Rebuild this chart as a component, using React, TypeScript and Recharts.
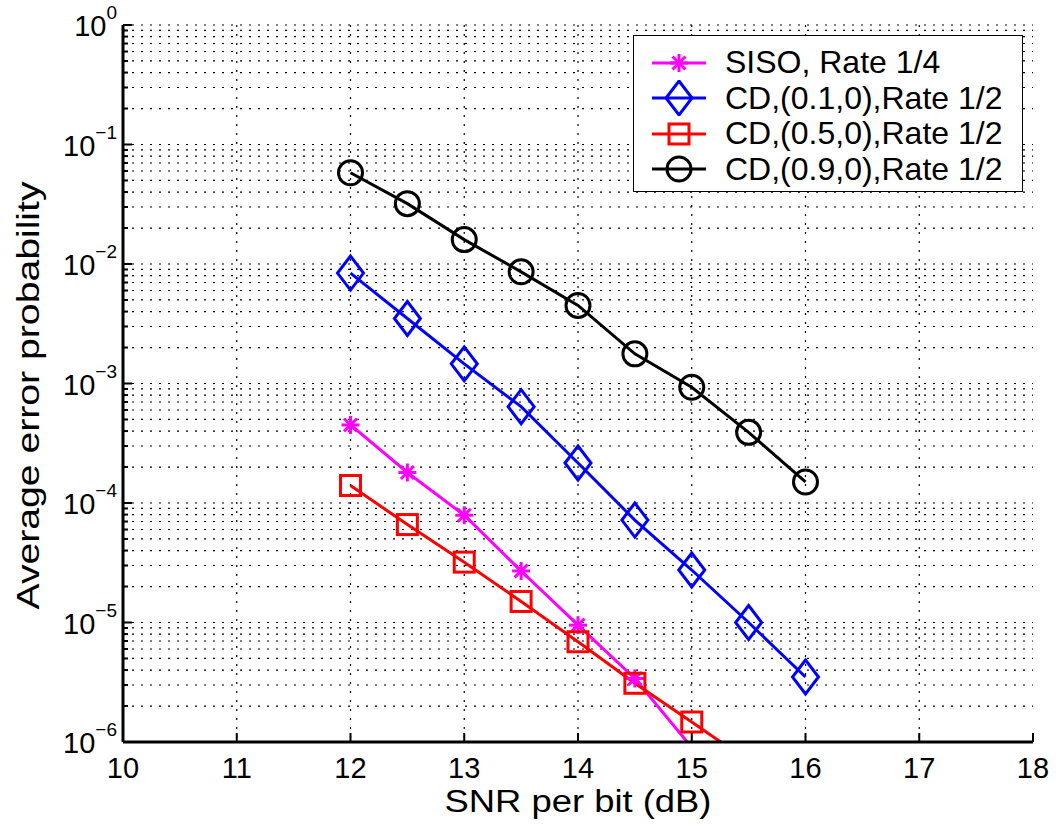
import React from "react";
import { LineChart, Line, XAxis, YAxis, CartesianGrid, Legend } from "recharts";

// SNR per bit (dB) sample points
const snr = [12, 12.5, 13, 13.5, 14, 14.5, 15, 15.5, 16];

// average error probability
const siso = [4.5e-4, 1.8e-4, 7.9e-5, 2.7e-5, 9.5e-6, 3.4e-6, 9e-7];
const cd01 = [8.4e-3, 3.5e-3, 1.46e-3, 6.4e-4, 2.16e-4, 7.2e-5, 2.75e-5, 1e-5, 3.5e-6];
const cd05 = [1.4e-4, 6.6e-5, 3.2e-5, 1.5e-5, 6.9e-6, 3.1e-6, 1.47e-6, 6.9e-7];
const cd09 = [5.8e-2, 3.2e-2, 1.6e-2, 8.6e-3, 4.5e-3, 1.77e-3, 9.3e-4, 3.9e-4, 1.5e-4];

const xTicks = [10, 11, 12, 13, 14, 15, 16, 17, 18];
const xGrid = [11, 12, 13, 14, 15, 16, 17];
const decadeExps = [-6, -5, -4, -3, -2, -1, 0];
const minorMultipliers = [2, 3, 4, 5, 6, 7, 8, 9];

const Y_MIN = 1e-6;
const decades = decadeExps.map((e) => Math.pow(10, e));
const minors = decadeExps.slice(0, -1).flatMap((e) => minorMultipliers.map((m) => m * Math.pow(10, e)));
const yTicks = [...decades, ...minors].sort((a, b) => a - b);

type Row = { x: number; siso?: number; cd01?: number; cd05?: number; cd09?: number };
const data: Row[] = snr.map((x, i) => ({ x, siso: siso[i], cd01: cd01[i], cd05: cd05[i], cd09: cd09[i] }));

const FONT = '"Liberation Sans", Arial, Helvetica, sans-serif';

type Marker = "star" | "diamond" | "square" | "circle";
const series: { key: keyof Row; name: string; color: string; marker: Marker }[] = [
  { key: "siso", name: "SISO, Rate 1/4", color: "#ff00ff", marker: "star" },
  { key: "cd01", name: "CD,(0.1,0),Rate 1/2", color: "#0000ff", marker: "diamond" },
  { key: "cd05", name: "CD,(0.5,0),Rate 1/2", color: "#ff0000", marker: "square" },
  { key: "cd09", name: "CD,(0.9,0),Rate 1/2", color: "#000000", marker: "circle" },
];

function MarkerShape({ kind, cx, cy, color }: { kind: Marker; cx: number; cy: number; color: string }) {
  const sw = 3;
  if (kind === "star") {
    const r = 9;
    const d = r * 0.72;
    return (
      <g stroke={color} strokeWidth={sw} fill="none">
        <line x1={cx - r} y1={cy} x2={cx + r} y2={cy} />
        <line x1={cx} y1={cy - r} x2={cx} y2={cy + r} />
        <line x1={cx - d} y1={cy - d} x2={cx + d} y2={cy + d} />
        <line x1={cx - d} y1={cy + d} x2={cx + d} y2={cy - d} />
      </g>
    );
  }
  if (kind === "diamond") {
    const w = 13;
    const h = 17;
    return (
      <polygon
        points={`${cx},${cy - h} ${cx + w},${cy} ${cx},${cy + h} ${cx - w},${cy}`}
        stroke={color}
        strokeWidth={sw}
        fill="none"
      />
    );
  }
  if (kind === "square") {
    return <rect x={cx - 10} y={cy - 10} width={20} height={20} stroke={color} strokeWidth={sw} fill="none" />;
  }
  return <circle cx={cx} cy={cy} r={12} stroke={color} strokeWidth={sw} fill="none" />;
}

function makeDot(kind: Marker, color: string) {
  return (props: any) => {
    const { cx, cy, value, index } = props;
    const v = Array.isArray(value) ? value[1] : value;
    if (cx == null || cy == null || v == null || v < Y_MIN) return <g key={index} />;
    return <MarkerShape key={index} kind={kind} cx={cx} cy={cy} color={color} />;
  };
}

function expLabel(v: number) {
  const e = Math.round(Math.log10(v));
  return e < 0 ? `\u2212${-e}` : `${e}`;
}

function isDecade(v: number) {
  return decades.some((d) => Math.abs(v / d - 1) < 1e-6);
}

// left axis: label for decades, inward tick marks
function LeftTick(props: any) {
  const { x, y, payload } = props;
  const v = payload.value;
  const major = isDecade(v);
  const ax = x + 8;
  return (
    <g>
      <line x1={ax} y1={y} x2={ax + (major ? 9 : 5)} y2={y} stroke="#000" strokeWidth={2} />
      {major && (
        <text x={x + 2} y={y + 11} textAnchor="end" fontFamily={FONT} fontSize={29} fill="#000">
          10
          <tspan dy={-17} fontSize={19}>
            {expLabel(v)}
          </tspan>
        </text>
      )}
    </g>
  );
}

function RightTick(props: any) {
  const { x, y, payload } = props;
  const major = isDecade(payload.value);
  return <line x1={x} y1={y} x2={x - (major ? 9 : 5)} y2={y} stroke="#000" strokeWidth={2} />;
}

function BottomTick(props: any) {
  const { x, y, payload } = props;
  const ay = y - 6;
  return (
    <g>
      <line x1={x} y1={ay} x2={x} y2={ay - 9} stroke="#000" strokeWidth={2} />
      <text x={x} y={ay + 36} textAnchor="middle" fontFamily={FONT} fontSize={29} fill="#000">
        {payload.value}
      </text>
    </g>
  );
}

function TopTick(props: any) {
  const { x, y } = props;
  return <line x1={x} y1={y} x2={x} y2={y + 9} stroke="#000" strokeWidth={2} />;
}

function XLabel(props: any) {
  const { viewBox } = props;
  const cx = viewBox.x + viewBox.width / 2;
  return (
    <text
      x={cx}
      y={812}
      textAnchor="middle"
      fontFamily={FONT}
      fontSize={31}
      fill="#000"
      textLength={267}
      lengthAdjust="spacingAndGlyphs"
    >
      SNR per bit (dB)
    </text>
  );
}

function YLabel(props: any) {
  const { viewBox } = props;
  const cx = 28;
  const cy = viewBox.y + viewBox.height / 2 + 12;
  return (
    <text
      x={cx}
      y={cy}
      transform={`rotate(-90 ${cx} ${cy})`}
      textAnchor="middle"
      dominantBaseline="central"
      fontFamily={FONT}
      fontSize={32}
      fill="#000"
      textLength={428}
      lengthAdjust="spacingAndGlyphs"
    >
      Average error probability
    </text>
  );
}

function LegendBox() {
  return (
    <div
      style={{
        border: "1px solid #000",
        background: "#fff",
        width: 390,
        height: 157,
        boxSizing: "border-box",
        paddingTop: 9,
        fontFamily: FONT,
        fontSize: 32,
      }}
    >
      {series.map((s) => (
        <div key={s.key} style={{ display: "flex", alignItems: "center", height: 35.5 }}>
          <svg width={91} height={36} style={{ flex: "none" }}>
            <line x1={18} y1={18} x2={72} y2={18} stroke={s.color} strokeWidth={3} />
            <MarkerShape kind={s.marker} cx={45} cy={18} color={s.color} />
          </svg>
          <span style={{ whiteSpace: "nowrap", lineHeight: "35px" }}>{s.name}</span>
        </div>
      ))}
    </div>
  );
}

export default function App() {
  return (
    <div style={{ position: "absolute", left: 0, top: 0, width: 1059, height: 826, background: "#fff" }}>
      <LineChart width={1059} height={826} data={data} margin={{ top: 25, right: 26, left: 0, bottom: 0 }}>
        <CartesianGrid
          horizontalValues={yTicks}
          verticalValues={xGrid}
          stroke="#000"
          strokeWidth={1.2}
          strokeDasharray="2 7"
        />
        <XAxis
          dataKey="x"
          type="number"
          domain={[10, 18]}
          ticks={xTicks}
          interval={0}
          allowDataOverflow
          height={84}
          tickSize={0}
          tickMargin={6}
          tick={<BottomTick />}
          axisLine={{ stroke: "#000", strokeWidth: 3 }}
          label={<XLabel />}
        />
        <XAxis
          xAxisId="top"
          orientation="top"
          dataKey="x"
          type="number"
          domain={[10, 18]}
          ticks={xTicks}
          interval={0}
          allowDataOverflow
          height={0}
          tickSize={0}
          tickMargin={0}
          tick={<TopTick />}
          axisLine={{ stroke: "#000", strokeWidth: 3 }}
        />
        <YAxis
          scale="log"
          type="number"
          domain={[Y_MIN, 1]}
          ticks={yTicks}
          interval={0}
          allowDataOverflow
          width={123}
          tickSize={0}
          tickMargin={8}
          tick={<LeftTick />}
          axisLine={{ stroke: "#000", strokeWidth: 3 }}
          label={<YLabel />}
        />
        <YAxis
          yAxisId="right"
          orientation="right"
          scale="log"
          type="number"
          domain={[Y_MIN, 1]}
          ticks={yTicks}
          interval={0}
          allowDataOverflow
          width={0}
          tickSize={0}
          tickMargin={0}
          tick={<RightTick />}
          axisLine={{ stroke: "#000", strokeWidth: 3 }}
        />
        <Legend
          layout="vertical"
          align="center"
          verticalAlign="middle"
          wrapperStyle={{ left: 633, top: 35, width: 390 }}
          content={() => <LegendBox />}
        />
        {series.map((s) => (
          <Line
            key={s.key}
            dataKey={s.key}
            name={s.name}
            stroke={s.color}
            strokeWidth={3}
            dot={makeDot(s.marker, s.color)}
            activeDot={false}
            isAnimationActive={false}
          />
        ))}
      </LineChart>
    </div>
  );
}
